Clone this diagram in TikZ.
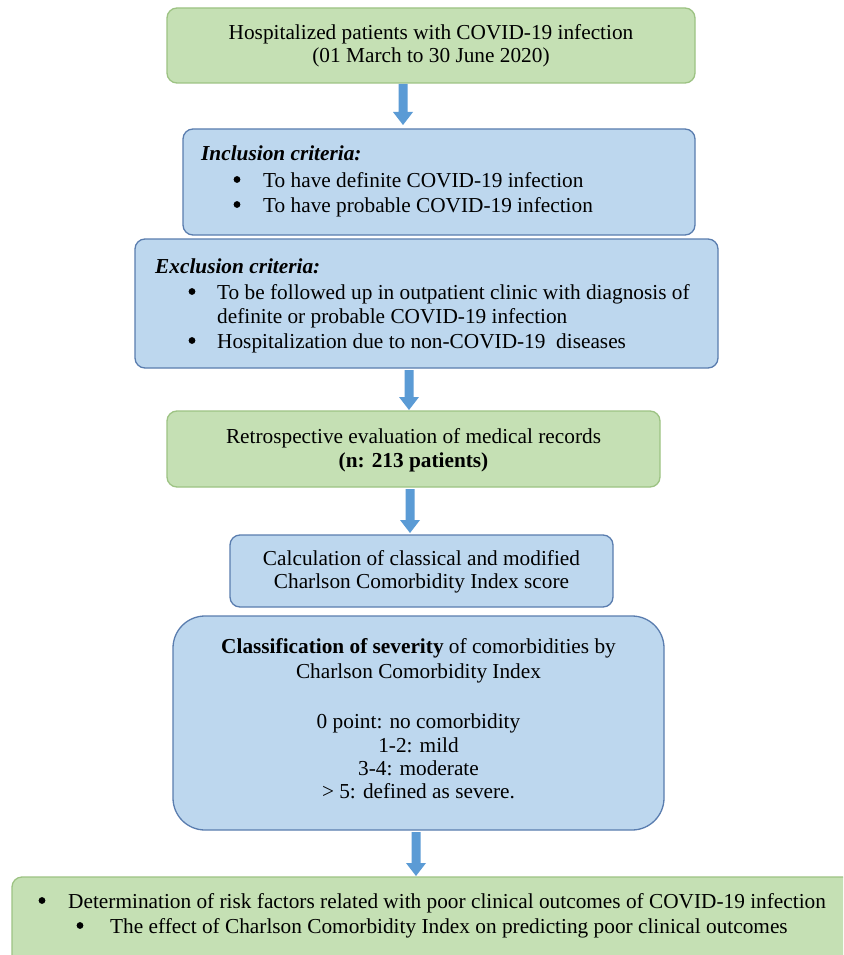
\documentclass[tikz,border=0pt]{standalone}
\usepackage{fontspec}
\setmainfont{Liberation Serif}
\usetikzlibrary{calc}
\definecolor{gfill}{HTML}{C5E0B4}
\definecolor{gline}{HTML}{9DC383}
\definecolor{bfill}{HTML}{BDD7EE}
\definecolor{bline}{HTML}{5A7DAF}
\definecolor{arrowc}{HTML}{5B9BD5}
\newcommand\blockarr[2]{\fill[arrowc] ($(#1)+(-4.5,0)$) -- ($(#2)+(-4.5,-13)$) -- ($(#2)+(-10,-13)$) -- (#2) -- ($(#2)+(10,-13)$) -- ($(#2)+(4.5,-13)$) -- ($(#1)+(4.5,0)$) -- cycle;}
\begin{document}
\begin{tikzpicture}[x=1pt,y=-1pt, font=\fontsize{21.3}{23}\selectfont,
 box/.style={draw, line width=1.3pt, rounded corners=10pt, inner sep=0pt},
 gbox/.style={box, fill=gfill, draw=gline},
 bbox/.style={box, fill=bfill, draw=bline},
 txt/.style={anchor=base, inner sep=0pt},
 ltxt/.style={anchor=base west, inner sep=0pt},
 bul/.style={circle, fill=black, inner sep=0pt, minimum size=6.8pt}]
\useasboundingbox (0,0) rectangle (843,955);
\clip (0,0) rectangle (843,955);
\fill[white] (0,0) rectangle (843,955);
% boxes
\node[gbox, minimum width=528pt, minimum height=75pt] (b1) at (431,45.5) {};
\node[bbox, minimum width=512pt, minimum height=106pt] (b2) at (439,182) {};
\node[bbox, minimum width=583pt, minimum height=129pt] (b3) at (426.5,303.5) {};
\node[gbox, minimum width=493pt, minimum height=76pt] (b4) at (413.5,449) {};
\node[bbox, minimum width=383pt, minimum height=72pt] (b5) at (421.5,571) {};
\node[bbox, rounded corners=32pt, minimum width=491pt, minimum height=214pt] (b6) at (418.5,723) {};
\node[gbox, minimum width=868pt, minimum height=113pt] (b7) at (446,933.5) {};
% arrows
\coordinate (a1s) at (403,84);  \coordinate (a1e) at (403,125);
\coordinate (a2s) at (409,370); \coordinate (a2e) at (409,410);
\coordinate (a3s) at (410,489); \coordinate (a3e) at (410,533);
\coordinate (a4s) at (416,832); \coordinate (a4e) at (416,876);
\blockarr{a1s}{a1e}
\blockarr{a2s}{a2e}
\blockarr{a3s}{a3e}
\blockarr{a4s}{a4e}
% box 1
\node[txt] (t1a) at (431,40) {Hospitalized patients with COVID-19 infection};
\node[txt] (t1b) at (431,63) {(01 March to 30 June 2020)};
% box 2
\node[ltxt] (t2h) at (201,160) {\textbf{\textit{Inclusion criteria:}}};
\node[bul] (t2p1) at (237,179.5) {};
\node[ltxt] (t2a) at (263,187) {To have definite COVID-19 infection};
\node[bul] (t2p2) at (237,204.5) {};
\node[ltxt] (t2b) at (263,212) {To have probable COVID-19 infection};
% box 3
\node[ltxt] (t3h) at (155,273) {\textbf{\textit{Exclusion criteria:}}};
\node[bul] (t3p1) at (192,291.5) {};
\node[ltxt] (t3a) at (217,299) {To be followed up in outpatient clinic with diagnosis of};
\node[ltxt] (t3b) at (217,323) {definite or probable COVID-19 infection};
\node[bul] (t3p2) at (192,340.5) {};
\node[ltxt] (t3c) at (217,348) {Hospitalization due to non-COVID-19\ \ diseases};
% box 4
\node[txt] (t4a) at (413.5,443) {Retrospective evaluation of medical records};
\node[txt] (t4b) at (413.5,467) {\textbf{(n: 213 patients)}};
% box 5
\node[txt] (t5a) at (421.5,565) {Calculation of classical and modified};
\node[txt] (t5b) at (421.5,588) {Charlson Comorbidity Index score};
% box 6
\node[txt] (t6a) at (418.5,653) {\textbf{Classification of severity} of comorbidities by};
\node[txt] (t6b) at (418.5,678) {Charlson Comorbidity Index};
\node[txt] (t6c) at (418.5,728) {0 point: no comorbidity};
\node[txt] (t6d) at (418.5,752) {1-2: mild};
\node[txt] (t6e) at (418.5,775) {3-4: moderate};
\node[txt] (t6f) at (418.5,798) {> 5: defined as severe.};
% box 7
\node[bul] (t7p1) at (42,900.5) {};
\node[ltxt] (t7a) at (68,908) {Determination of risk factors related with poor clinical outcomes of COVID-19 infection};
\node[bul] (t7p2) at (80,925.5) {};
\node[ltxt] (t7b) at (110,933) {The effect of Charlson Comorbidity Index on predicting poor clinical outcomes};
\end{tikzpicture}
\end{document}
